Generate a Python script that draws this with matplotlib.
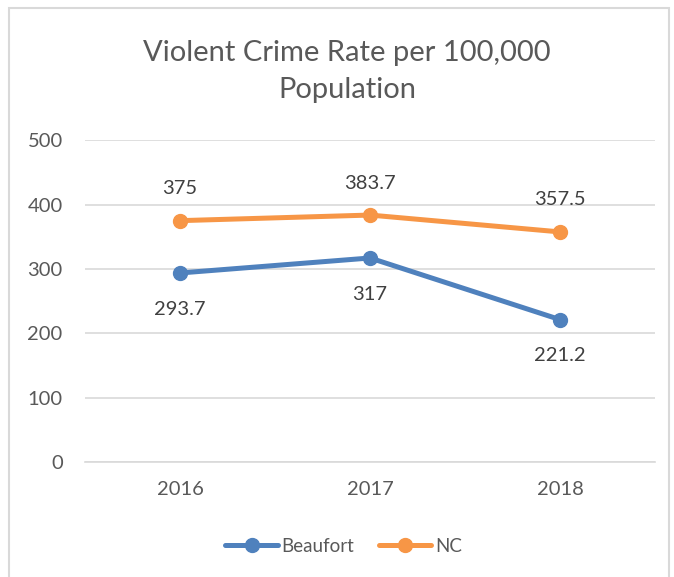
import matplotlib.pyplot as plt
from matplotlib.patches import Rectangle

plt.rcParams['font.family'] = ['Lato', 'DejaVu Sans']

years = ['2016', '2017', '2018']
beaufort = [293.7, 317, 221.2]
nc = [375, 383.7, 357.5]
yticks = [0, 100, 200, 300, 400, 500]

blue = '#4F81BD'
orange = '#F79646'
text_color = '#595959'
grid_color = '#D9D9D9'

fig = plt.figure(figsize=(6.74, 5.77), dpi=100)
ax = fig.add_axes([0.126, 0.1993, 0.846, 0.5577])

x = range(len(years))
ax.plot(x, beaufort, color=blue, lw=3.6, marker='o', ms=10, label='Beaufort',
        solid_capstyle='round', zorder=3)
ax.plot(x, nc, color=orange, lw=3.6, marker='o', ms=10, label='NC',
        solid_capstyle='round', zorder=3)

#data labels: NC above, Beaufort below
for i, v in enumerate(nc):
    ax.annotate(f'{v:g}', (i, v), xytext=(0, 23), textcoords='offset points',
                ha='center', va='center', fontsize=14.5, color='#404040')
for i, v in enumerate(beaufort):
    ax.annotate(f'{v:g}', (i, v), xytext=(0, -26), textcoords='offset points',
                ha='center', va='center', fontsize=14.5, color='#404040')

ax.set_xlim(-0.5, 2.5)
ax.set_ylim(0, 500)
ax.set_xticks(list(x))
ax.set_xticklabels(years)
ax.set_yticks(yticks)
ax.tick_params(axis='both', length=0, labelsize=14.5, labelcolor=text_color)
ax.tick_params(axis='y', pad=16)
ax.tick_params(axis='x', pad=14)
ax.grid(axis='y', color=grid_color, lw=1.2)
ax.set_axisbelow(True)
for s in ['top', 'right', 'left']:
    ax.spines[s].set_visible(False)
ax.spines['bottom'].set_color(grid_color)
ax.spines['bottom'].set_linewidth(1.2)

fig.text(0.515, 0.876, 'Violent Crime Rate per 100,000\nPopulation', ha='center',
         va='center', fontsize=21, color=text_color, linespacing=1.5)

fig.legend(loc='center', bbox_to_anchor=(0.51, 0.053), ncol=2, frameon=False,
           fontsize=13.5, handlelength=2.8, columnspacing=1.3, handletextpad=0.2,
           labelcolor=text_color)

#chart border
fig.patches.append(Rectangle((0.013, -0.05), 0.98, 1.036, transform=fig.transFigure,
                             fill=False, edgecolor=grid_color, lw=1.5))

fig.savefig('out.png', dpi=100)
